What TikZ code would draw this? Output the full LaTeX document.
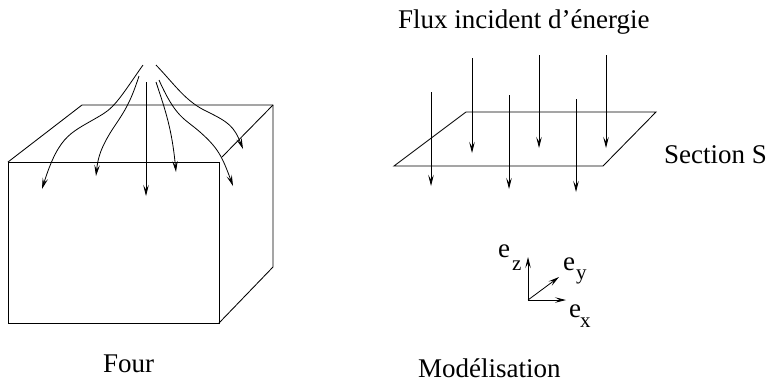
\documentclass[tikz,border=0pt]{standalone}
\usepackage{fontspec}
\setmainfont{Liberation Serif}
\usepackage{tikz}
\usetikzlibrary{ arrows.meta }

\begin{document}
\begin{tikzpicture}[
  x=1pt, y=-1pt,
  trait/.style={line width=0.85pt},
  fl/.style={-{Stealth[length=11pt,width=5.5pt,inset=4.5pt]}, line width=0.8pt},
  lab/.style={inner sep=0pt, anchor=base west, font=\fontsize{27}{30}\selectfont},
  ind/.style={font=\fontsize{21}{24}\selectfont},
]
  \useasboundingbox (0,0) rectangle (766,384);

  % four
  \draw[trait] (8,162) rectangle (219,323);
  \draw[trait] (8,162) -- (82,105) -- (273,105) -- (273,267) -- (219,323);
  \draw[trait] (273,105) -- (222,157);

  \draw[fl] (143,65) .. controls (124,92) and (116,106) .. (103,114)
    .. controls (72,133) and (60,132) .. (42,189);
  \draw[fl] (139,76) .. controls (130,104) and (124,112) .. (112,130)
    .. controls (102,146) and (98,156) .. (96,176);
  \draw[fl] (146,82) -- (146,196);
  \draw[fl] (156,82) .. controls (166,112) and (172,130) .. (176,172);
  \draw[fl] (159,80) .. controls (176,118) and (184,118) .. (200,132)
    .. controls (218,148) and (222,156) .. (233,186);
  \draw[fl] (156,65) .. controls (176,86) and (186,102) .. (208,112)
    .. controls (228,122) and (234,126) .. (243,149);

  \node[lab] (four) at (103,372) {Four};

  % section
  \draw[trait] (466,112) -- (656,112) -- (603,166) -- (394,166) -- cycle;
  \draw[fl] (431,92) -- (431,186);
  \draw[fl] (472,58) -- (472,153);
  \draw[fl] (509,95) -- (509,189);
  \draw[fl] (539,55) -- (539,148);
  \draw[fl] (576,99) -- (576,192);
  \draw[fl] (606,55) -- (606,148);

  \node[lab] (flux) at (398,28) {Flux incident d'énergie};
  \node[lab] (section) at (664,163) {Section S};

  % repere
  \coordinate (o) at (528,300);
  \coordinate (z) at (528,257);
  \coordinate (y) at (559,277);
  \coordinate (x) at (566,300);
  \draw[fl] (o) -- (z);
  \draw[fl] (o) -- (y);
  \draw[fl] (o) -- (x);
  \node[lab] (ez) at (498,257) {e};
  \node[lab, ind] (zz) at (512,270) {z};
  \node[lab] (ey) at (563,270) {e};
  \node[lab, ind] (yy) at (576,279) {y};
  \node[lab] (ex) at (569,317) {e};
  \node[lab, ind] (xx) at (580,327) {x};

  \node[lab] (model) at (418,377) {Modélisation};
\end{tikzpicture}
\end{document}
